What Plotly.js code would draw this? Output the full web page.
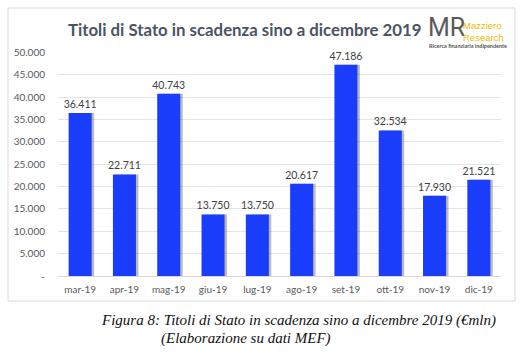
<!DOCTYPE html>
<html>
<head>
<meta charset="utf-8">
<script src="https://cdn.plot.ly/plotly-3.0.1.min.js"></script>
<style>html,body{margin:0;padding:0;background:#fff;}#chart{width:527px;height:361px;}</style>
</head>
<body>
<div id="chart"></div>
<script>
const months = ["mar-19","apr-19","mag-19","giu-19","lug-19","ago-19","set-19","ott-19","nov-19","dic-19"];
const values = [36411, 22711, 40743, 13750, 13750, 20617, 47186, 32534, 17930, 21521];
const valueLabels = ["36.411","22.711","40.743","13.750","13.750","20.617","47.186","32.534","17.930","21.521"];
const yTickVals = [0, 5000, 10000, 15000, 20000, 25000, 30000, 35000, 40000, 45000, 50000];
const yTickText = ["-", "5.000", "10.000", "15.000", "20.000", "25.000", "30.000", "35.000", "40.000", "45.000", "50.000"];
const chartTitle = "Titoli di Stato in scadenza sino a dicembre 2019";
const captionLine1 = "Figura 8: Titoli di Stato in scadenza sino a dicembre 2019 (€mln)";
const captionLine2 = "(Elaborazione su dati MEF)";

const W = 0.52;
const shadow = {
  type: 'bar', x: months, y: values, width: W, offset: -W/2 + 0.055,
  marker: {color: 'rgba(60,60,60,0.35)'}, hoverinfo: 'skip', showlegend: false
};
const bars = {
  type: 'bar', x: months, y: values, width: W, offset: -W/2,
  marker: {color: '#1a3dfc'},
  text: valueLabels, textposition: 'outside', cliponaxis: false, constraintext: 'none',
  textfont: {family: 'Lato, sans-serif', size: 10.5, color: '#404040'},
  showlegend: false
};

const L = 58, R = 501, T = 52, B = 276;
const pw = R - L, ph = B - T;
const px = v => (v - L) / pw;
const py = v => (B - v) / ph;

const layout = {
  width: 527, height: 361,
  margin: {l: L, r: 527 - R, t: T, b: 361 - B, pad: 0},
  paper_bgcolor: '#ffffff', plot_bgcolor: '#ffffff',
  barmode: 'overlay', bargap: 0.48,
  showlegend: false,
  font: {family: 'Lato, sans-serif', color: '#595959'},
  xaxis: {
    type: 'category', showgrid: false, zeroline: false, showline: false,
    ticks: '', tickfont: {family: 'Lato, sans-serif', size: 10, color: '#595959'},
    ticklabelstandoff: 6
  },
  yaxis: {
    range: [0, 50060], tickvals: yTickVals, ticktext: yTickText,
    showgrid: true, gridcolor: '#e2e4e8', gridwidth: 1,
    zeroline: true, zerolinecolor: '#d9d9d9', zerolinewidth: 1,
    showline: false, ticks: '',
    tickfont: {family: 'Lato, sans-serif', size: 10, color: '#595959'},
    ticklabelstandoff: 12
  },
  shapes: [{
    type: 'rect', xref: 'paper', yref: 'paper', layer: 'below',
    x0: px(8), x1: px(515), y0: py(301), y1: py(8),
    line: {color: '#d9d9d9', width: 1}, fillcolor: 'rgba(0,0,0,0)'
  }],
  annotations: [
    {text: '<b>' + chartTitle + '</b>', xref: 'paper', yref: 'paper', x: px(245), y: py(30),
     xanchor: 'center', yanchor: 'middle', showarrow: false,
     font: {family: 'Lato, sans-serif', size: 16.8, color: '#4a5464'}},
    {text: 'MR', xref: 'paper', yref: 'paper', x: px(427), y: py(28),
     xanchor: 'left', yanchor: 'middle', showarrow: false, borderpad: 0,
     font: {family: 'Liberation Sans Narrow, Roboto, sans-serif', size: 25, color: '#5a5a5a'}},
    {text: 'Mazziero<br>Research', xref: 'paper', yref: 'paper', x: px(462), y: py(31.5),
     xanchor: 'left', yanchor: 'middle', align: 'left', showarrow: false, borderpad: 0,
     font: {family: 'Liberation Sans, Arial, sans-serif', size: 9.5, color: '#f2b705'}},
    {text: '<b>Ricerca finanziaria indipendente</b>', xref: 'paper', yref: 'paper', x: px(428), y: py(46),
     xanchor: 'left', yanchor: 'middle', showarrow: false, borderpad: 0,
     font: {family: 'Lato, sans-serif', size: 5.5, color: '#555555'}},
    {text: '<i>' + captionLine1 + '</i>', xref: 'paper', yref: 'paper', x: px(99), y: py(320),
     xanchor: 'left', yanchor: 'middle', showarrow: false,
     font: {family: 'Liberation Serif, serif', size: 15, color: '#111111'}},
    {text: '<i>' + captionLine2 + '</i>', xref: 'paper', yref: 'paper', x: px(159), y: py(338),
     xanchor: 'left', yanchor: 'middle', showarrow: false,
     font: {family: 'Liberation Serif, serif', size: 15, color: '#111111'}}
  ]
};

Plotly.newPlot('chart', [shadow, bars], layout, {displayModeBar: false, staticPlot: true});
</script>
</body>
</html>
